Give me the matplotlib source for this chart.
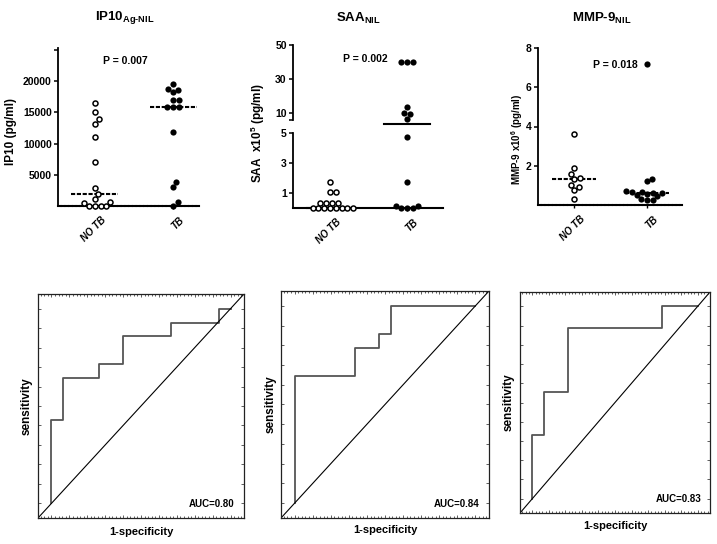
import numpy as np
import matplotlib
matplotlib.use("Agg")
import matplotlib.pyplot as plt
import matplotlib.transforms as mtransforms

plt.rcParams['font.family'] = ['Liberation Sans', 'DejaVu Sans']
plt.rcParams['font.weight'] = 'bold'
plt.rcParams['axes.labelweight'] = 'bold'
plt.rcParams['mathtext.fontset'] = 'custom'
plt.rcParams['mathtext.rm'] = 'Liberation Sans:bold'
plt.rcParams['mathtext.it'] = 'Liberation Sans:bold:italic'
plt.rcParams['mathtext.bf'] = 'Liberation Sans:bold'
plt.rcParams['mathtext.default'] = 'rm'

groups = ['NO TB', 'TB']

# scatter data (pg/ml)
ip10_notb = [16500, 15000, 13900, 13200, 11100, 7100, 2900, 1900, 1100, 700, 500, 0, 0, 0, 0]
ip10_tb = [19500, 18700, 18600, 18200, 17000, 16900, 15800, 15800, 15800, 11800, 3900, 3100, 600, 0]

saa_notb = [1.75, 1.1, 1.1, 0.36, 0.36, 0.36, 0.36, 0, 0, 0, 0, 0, 0, 0, 0]
saa_tb = [40, 40, 40, 13.7, 10.2, 9.5, 6.5, 4.75, 1.75, 0.15, 0.15, 0, 0, 0]

mmp_notb = [3.6, 1.9, 1.6, 1.4, 1.35, 1.0, 0.9, 0.75, 0.3]
mmp_tb = [7.2, 1.3, 1.2, 0.72, 0.68, 0.65, 0.63, 0.62, 0.55, 0.5, 0.45, 0.3, 0.28, 0.25]

titles = [r'IP10$_{Ag\text{-}NIL}$', r'SAA$_{NIL}$', r'MMP-9$_{NIL}$']
ylabels = ['IP10 (pg/ml)', r'SAA  x10$^{5}$ (pg/ml)', r'MMP-9 x10$^{6}$ (pg/ml)']
pvals = ['P = 0.007', 'P = 0.002', 'P = 0.018']

# ROC steps as counts (false positives / true positives)
ip10_fp = [0, 1, 4, 6, 10, 14, 15]
ip10_tp = [0, 6, 9, 10, 12, 13, 14]
saa_fp = [0, 5, 7, 8, 15]
saa_tp = [0, 9, 11, 12, 14]
mmp_fp = [0, 1, 3, 11, 14]
mmp_tp = [0, 3, 5, 8, 9]
roc_n = [(15, 14), (15, 14), (14, 9)]

W, H = 717, 544
fig = plt.figure(figsize=(W / 100, H / 100), dpi=100)


def box(l, t, r, b):
    return [l / W, 1 - b / H, (r - l) / W, (b - t) / H]


def swarm(ax, xc, vals, d=5.8):
    pts = ax.transData.transform(np.column_stack([np.full(len(vals), xc), vals]))
    order = np.argsort(pts[:, 1], kind='stable')
    placed = []
    xs = np.zeros(len(vals))
    for i in order:
        x0, y0 = pts[i]
        cands = [x0]
        for px, py in placed:
            dy = y0 - py
            if abs(dy) < d:
                dx = np.sqrt(d * d - dy * dy)
                cands += [px + dx, px - dx]
        cands.sort(key=lambda c: abs(c - x0))
        for c in cands:
            if all((c - px) ** 2 + (y0 - py) ** 2 >= d * d - 1e-6 for px, py in placed):
                break
        placed.append((c, y0))
        xs[i] = c
    back = ax.transData.inverted().transform(np.column_stack([xs, pts[:, 1]]))
    return back[:, 0]


# broken SAA axis as piecewise scale
saa_v = [-50, 0, 5, 5.9, 50, 500]
saa_p = [-750, 0, 75, 88, 163, 163 + 450 * 1.7]


def saa_fwd(v):
    return np.interp(v, saa_v, saa_p)


def saa_inv(p):
    return np.interp(p, saa_p, saa_v)


top_boxes = [box(58, 48, 199, 206), box(293, 45, 443, 208), box(538, 48, 682, 205)]
xlims = [(-0.47, 1.33), (-0.48, 1.47), (-0.49, 1.48)]
datasets = [(ip10_notb, ip10_tb), (saa_notb, saa_tb), (mmp_notb, mmp_tb)]
title_x = [125, 358, 602]
p_pos = [(125, 61), (365, 59), (615, 65)]
ylab_coords = [(-0.29, 0.47), (-0.173, 0.46), (-0.09, 0.42)]

for k in range(3):
    ax = fig.add_axes(top_boxes[k])
    ax.set_xlim(*xlims[k])
    if k == 0:
        ax.set_ylim(0, 25300)
        ax.set_yticks([5000, 10000, 15000, 20000, 25000], ['5000', '10000', '15000', '20000', ''])
    elif k == 1:
        ax.set_yscale('function', functions=(saa_fwd, saa_inv))
        ax.set_ylim(0, 50)
        ax.set_yticks([1, 3, 5, 5.9, 10, 30, 50], ['1', '3', '5', '', '10', '30', '50'])
        ax.minorticks_off()
    else:
        ax.set_ylim(0, 8)
        ax.set_yticks([2, 4, 6, 8], ['2', '4', '6', '8'])

    for s in ['top', 'right']:
        ax.spines[s].set_visible(False)
    ax.spines['left'].set_linewidth(1.3)
    ax.spines['bottom'].set_linewidth(1.5)
    if k != 1:
        ax.spines['bottom'].set_linestyle((0, (1.2, 0.6)))
    else:
        ax.spines['left'].set_visible(False)
        tr = mtransforms.blended_transform_factory(ax.transAxes, ax.transData)
        ax.plot([0, 0], [0, 5], transform=tr, color='black', lw=1.3, clip_on=False)
        ax.plot([0, 0], [5.9, 50], transform=tr, color='black', lw=1.3, clip_on=False)

    ax.tick_params(axis='y', direction='out', length=3, width=1.1, pad=1.5, labelsize=7.5)
    ax.tick_params(axis='x', direction='out', length=2.5, width=1.0, pad=4)
    ax.set_xticks([0, 1])
    ax.set_xticklabels(groups, rotation=45, ha='right', va='top', rotation_mode='anchor',
                       fontsize=7, style='italic', fontweight='bold')
    shift = mtransforms.ScaledTranslation(6 / 100, 0, fig.dpi_scale_trans)
    for lab in ax.get_xticklabels():
        lab.set_transform(lab.get_transform() + shift)
    for lab in ax.get_yticklabels():
        lab.set_fontweight('bold')

    notb, tb = datasets[k]
    xs0 = swarm(ax, 0, notb)
    xs1 = swarm(ax, 1, tb)
    ax.scatter(xs0, notb, s=13, facecolor='white', edgecolor='black', linewidths=1.1,
               clip_on=False, zorder=3)
    ax.scatter(xs1, tb, s=20, facecolor='black', edgecolor='black', linewidths=0,
               clip_on=False, zorder=3)

    ls = '-' if k == 1 else (0, (2, 0.8))
    for i, vals in enumerate([notb, tb]):
        m = np.median(vals)
        ax.plot([i - 0.3, i + 0.3], [m, m], color='black', lw=1.5, ls=ls, zorder=2, clip_on=False)

    ax.set_ylabel(ylabels[k], fontsize=7 if k == 2 else 8.5, fontweight='bold')
    ax.yaxis.set_label_coords(*ylab_coords[k])

    fig.text(title_x[k] / W, 1 - 18 / H, titles[k], ha='center', va='center', fontsize=9.5)
    fig.text(p_pos[k][0] / W, 1 - p_pos[k][1] / H, pvals[k], ha='center', va='center',
             fontsize=7.5, fontweight='bold')

# ROC panels
roc_boxes = [box(38, 294, 244, 518), box(281, 291, 489, 518), box(520, 292, 710, 513)]
roc_fp = [ip10_fp, saa_fp, mmp_fp]
roc_tp = [ip10_tp, saa_tp, mmp_tp]
xlab_y = [-0.04, -0.031, -0.036]
ylab_x = [-0.024, -0.019, -0.026]

for k in range(3):
    ax = fig.add_axes(roc_boxes[k])
    ax.set_xlim(-0.075, 1.075)
    ax.set_ylim(-0.075, 1.075)
    nneg, npos = roc_n[k]
    fpr = np.array(roc_fp[k]) / nneg
    tpr = np.array(roc_tp[k]) / npos
    ax.step(fpr, tpr, where='pre', color='#555555', lw=1.3)
    ax.plot([0, 1], [0, 1], transform=ax.transAxes, color='black', lw=0.8)
    auc = np.sum(np.diff(fpr) * tpr[1:])
    ax.text(0.955, 0.04, f'AUC={auc:.2f}', transform=ax.transAxes, ha='right', va='bottom',
            fontsize=7, fontweight='bold')
    ax.set_xticks(np.linspace(0, 1, 11))
    ax.set_yticks(np.linspace(0, 1, 11))
    ax.xaxis.set_minor_locator(matplotlib.ticker.MultipleLocator(0.02))
    ax.tick_params(which='both', direction='in', top=True, right=True,
                   labelbottom=False, labelleft=False, width=0.6, color='#444444')
    ax.tick_params(which='major', length=2.2)
    ax.tick_params(which='minor', length=1.2)
    for s in ax.spines.values():
        s.set_linewidth(0.9)
        s.set_color('#222222')
    ax.set_xlabel('1-specificity', fontsize=8, fontweight='bold')
    ax.xaxis.set_label_coords(0.5, xlab_y[k])
    ax.set_ylabel('sensitivity', fontsize=8.5, fontweight='bold')
    ax.yaxis.set_label_coords(ylab_x[k], 0.5)

fig.savefig('out.png', dpi=100)
